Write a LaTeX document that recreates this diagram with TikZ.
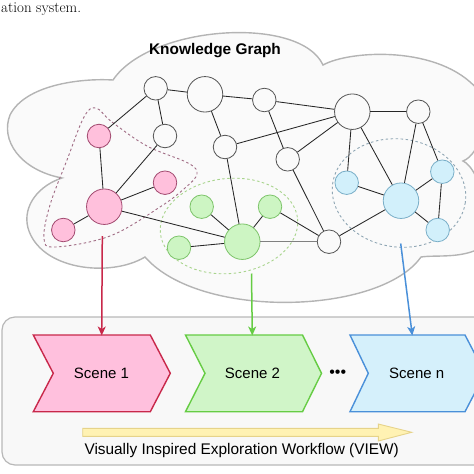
\documentclass[tikz,border=0pt]{standalone}
\usepackage{fontspec}
\usetikzlibrary{arrows.meta,shapes.geometric}
\newfontfamily\sansf{Liberation Sans}
\definecolor{cloudfill}{HTML}{FAFAFA}
\definecolor{clouddraw}{HTML}{B4B4B4}
\definecolor{panelfill}{HTML}{F8F8F8}
\definecolor{paneldraw}{HTML}{B8B8B8}
\definecolor{wfill}{HTML}{FAFAFA}
\definecolor{wdraw}{HTML}{555555}
\definecolor{pfill}{HTML}{FFC0DC}
\definecolor{pdraw}{HTML}{A24A70}
\definecolor{gfill}{HTML}{CDF5C3}
\definecolor{gdraw}{HTML}{7DC46A}
\definecolor{bfill}{HTML}{D2F0FB}
\definecolor{bdraw}{HTML}{7AAFC8}
\definecolor{pdash}{HTML}{A06C84}
\definecolor{gdash}{HTML}{A8D48C}
\definecolor{bdash}{HTML}{8FA6B4}
\definecolor{pline}{HTML}{C8284A}
\definecolor{gline}{HTML}{66CC44}
\definecolor{bline}{HTML}{4A90D9}
\definecolor{pchev}{HTML}{FFC0DD}
\definecolor{gchev}{HTML}{D0F5C8}
\definecolor{bchev}{HTML}{D5F0FB}
\definecolor{yfill}{HTML}{FFF2B3}
\definecolor{ydraw}{HTML}{E6D38A}
\tikzset{
  gnode/.style={circle, inner sep=0pt, line width=0.8pt, minimum size=23.5pt},
  bignode/.style={gnode, minimum size=35.5pt},
  wn/.style={fill=wfill, draw=wdraw},
  pn/.style={fill=pfill, draw=pdraw},
  gn/.style={fill=gfill, draw=gdraw},
  bn/.style={fill=bfill, draw=bdraw},
  edge/.style={draw=black!85, line width=0.85pt},
  grpdash/.style={dash pattern=on 2.5pt off 2.5pt, line width=0.9pt},
  flow/.style={line width=1.5pt, -{Stealth[length=9pt,width=8pt,inset=2.5pt]}},
  chev/.style={line width=1.4pt, line join=miter},
  lbl/.style={font=\sansf\fontsize{15}{18}\selectfont, inner sep=0pt}
}
\begin{document}
\begin{tikzpicture}[x=1pt,y=-1pt]
\useasboundingbox (0,0) rectangle (474,474);
% caption fragment
\node[anchor=base west, inner sep=0pt, font=\fontsize{15}{18}\selectfont] (cap) at (1,12) {ation system.};
% cloud
\draw[fill=cloudfill, draw=clouddraw, line width=1.4pt]
  (113,80) .. controls (150,25) and (300,15) .. (323,65)
  .. controls (350,50) and (440,45) .. (478,90)
  .. controls (495,110) and (480,155) .. (463,161)
  .. controls (480,168) and (500,235) .. (474,251)
  .. controls (455,258) and (435,255) .. (421,257)
  .. controls (380,315) and (200,320) .. (145,257)
  .. controls (110,278) and (40,270) .. (28,228)
  .. controls (22,205) and (40,185) .. (62,178)
  .. controls (20,170) and (0,140) .. (10,115)
  .. controls (25,85) and (80,78) .. (113,80) -- cycle;
\node[font=\sansf\bfseries\fontsize{15.4}{18}\selectfont, inner sep=0pt] (kg) at (215,51) {Knowledge Graph};
% groups
\draw[grpdash, draw=pdash] plot[smooth cycle, tension=0.6] coordinates {
  (96,108) (112,122) (147,146) (188,163) (197,174) (185,188) (160,207)
  (110,236) (55,247) (44,238) (50,205) (67,160) (84,117)};
\draw[grpdash, draw=gdash, rotate around={6:(229,226)}] (229,226) ellipse [x radius=69, y radius=47.5];
\draw[grpdash, draw=bdash, rotate around={-8:(399,193)}] (399,193) ellipse [x radius=67, y radius=54];
% bottom panel
\draw[fill=panelfill, draw=paneldraw, line width=1.2pt, rounded corners=13] (2,317) rectangle (495,465);
% graph nodes
\node[gnode,wn] (w1) at (155.7,88.3) {};
\node[bignode,wn] (w2) at (205,94.3) {};
\node[gnode,wn] (w3) at (264.3,100) {};
\node[bignode,wn] (w5) at (352.3,111.7) {};
\node[gnode,wn] (w7) at (418.3,111.7) {};
\node[gnode,wn] (wm) at (165,136) {};
\node[gnode,wn] (w4) at (225,147) {};
\node[gnode,wn] (w6) at (287.7,159.3) {};
\node[gnode,wn] (w8) at (329,241.7) {};
\node[gnode,pn] (p1) at (99,136) {};
\node[gnode,pn] (p2) at (165,182.7) {};
\node[bignode,pn] (pb) at (104.3,206.7) {};
\node[gnode,pn] (p3) at (63.3,230) {};
\node[gnode,gn] (g1) at (201.7,206.7) {};
\node[gnode,gn] (g2) at (270,206.7) {};
\node[bignode,gn] (gb) at (242.3,241.7) {};
\node[gnode,gn] (g3) at (179,247.7) {};
\node[gnode,bn] (b1) at (346.7,182.7) {};
\node[bignode,bn] (bb) at (401,200.7) {};
\node[gnode,bn] (b2) at (442.3,171.7) {};
\node[gnode,bn] (b3) at (437.7,230) {};
% edges
\foreach \a/\b in {w1/w2, w1/p1, w1/wm, w2/w3, w2/w4, w3/w5, w3/w6, w5/w7, w4/w5, w6/w5,
  w5/b1, w5/bb, w7/bb, w7/b2, p1/pb, wm/pb, pb/p2, pb/p3, pb/gb, w4/gb, w6/w8,
  gb/g1, gb/g2, gb/g3, g2/w8, w8/bb, b1/bb, bb/b2, bb/b3, b2/b3}
  \draw[edge] (\a) -- (\b);
\draw[edge, draw=black!50] (gb) -- (w8);
% chevrons
\draw[chev, fill=pchev, draw=pline] (33.3,335) -- (150.3,335) -- (170.3,373.3) -- (150.3,411.7) -- (33.3,411.7) -- (53.3,373.3) -- cycle;
\draw[chev, fill=gchev, draw=gline] (185.5,335) -- (302.5,335) -- (321.5,373.3) -- (302.5,411.7) -- (185.5,411.7) -- (205,373.3) -- cycle;
\draw[chev, fill=bchev, draw=bline] (350,335) -- (465,335) -- (485,373.3) -- (465,411.7) -- (350,411.7) -- (368.3,373.3) -- cycle;
\node[lbl] (s1) at (101.5,373.3) {Scene 1};
\node[lbl] (s2) at (252.5,373.3) {Scene 2};
\node[lbl] (sn) at (416.7,373.3) {Scene n};
\node[lbl, font=\sansf\fontsize{16}{18}\selectfont] (dots) at (337.7,373.8) {•••};
\coordinate (s1top) at (101.7,335.5);
\coordinate (s2top) at (252.3,335.5);
\coordinate (sntop) at (412.3,335.5);
\coordinate (pout) at (102.3,236);
\coordinate (gout) at (251.5,273.5);
\coordinate (bout) at (400.7,243.5);
\draw[flow, draw=pline] (pout) -- (s1top);
\draw[flow, draw=gline] (gout) -- (s2top);
\draw[flow, draw=bline] (bout) -- (sntop);
% workflow arrow
\draw[fill=yfill, draw=ydraw, line width=0.9pt, line join=miter]
  (82.7,428.3) -- (378.3,428.3) -- (378.3,424) -- (411.7,432.3) -- (378.3,441) -- (378.3,436.3) -- (82.7,436.3) -- cycle;
\node[lbl, font=\sansf\fontsize{15.4}{18}\selectfont] (view) at (241.7,450.5) {Visually Inspired Exploration Workflow (VIEW)};
\end{tikzpicture}
\end{document}
